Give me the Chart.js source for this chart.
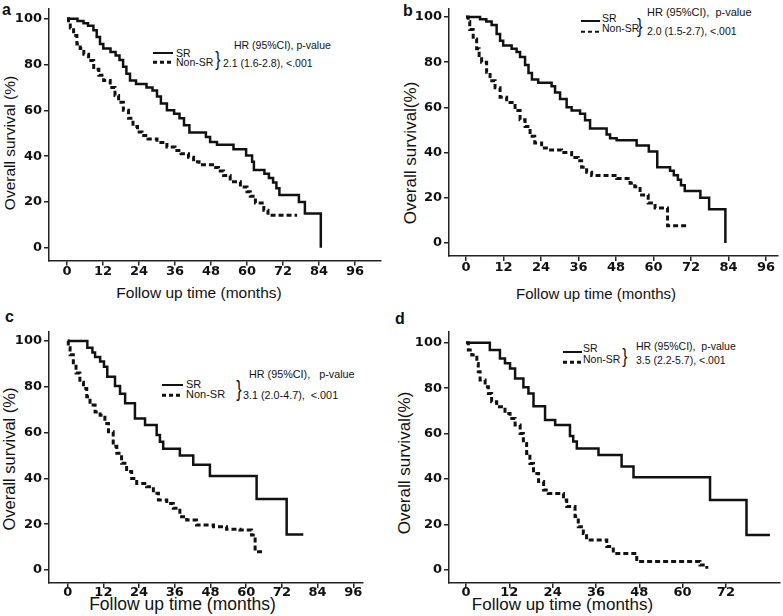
<!DOCTYPE html>
<html>
<head>
<meta charset="utf-8">
<script src="https://cdn.jsdelivr.net/npm/chart.js@4.4.1/dist/chart.umd.min.js"></script>
<style>
  body { margin: 0; background: #fff; width: 783px; height: 616px; position: relative; overflow: hidden;
         font-family: "Liberation Sans", Arial, sans-serif; color: #111; }
  canvas { position: absolute; }
  .pl { position: absolute; font-weight: bold; font-size: 16px; line-height: 1; }
  .ax { position: absolute; white-space: nowrap; line-height: 1; transform: translate(-50%, -50%); }
  .ax.v { transform: translate(-50%, -50%) rotate(-90deg); }
  .lg { position: absolute; font-size: 10.5px; white-space: pre; line-height: 1; transform: translateY(-50%); }
  .sw { position: absolute; height: 2px; background: #111; transform: translateY(-50%); }
  .sw.d { height: 2.5px; background: repeating-linear-gradient(90deg, #111 0 4px, transparent 4px 7px); }
  .br { position: absolute; font-size: 21px; line-height: 1; transform: translate(-50%, -50%) scaleX(0.75); }
</style>
</head>
<body>

<!-- panel letters -->
<div class="pl" style="left:2px;top:2px">a</div>
<div class="pl" style="left:403px;top:3px">b</div>
<div class="pl" style="left:5px;top:309px">c</div>
<div class="pl" style="left:395px;top:311px">d</div>

<!-- axis titles -->
<div class="ax v" style="left:9.5px;top:142.5px;font-size:15.5px">Overall survival (%)</div>
<div class="ax" style="left:199px;top:292.7px;font-size:15.5px">Follow up time (months)</div>
<div class="ax v" style="left:409.7px;top:152.5px;font-size:17px">Overall survival(%)</div>
<div class="ax" style="left:596px;top:293.3px;font-size:15px">Follow up time (months)</div>
<div class="ax v" style="left:9.2px;top:459px;font-size:16.5px">Overall survival (%)</div>
<div class="ax" style="left:182.5px;top:605px;font-size:17.5px">Follow up time (months)</div>
<div class="ax v" style="left:404px;top:463px;font-size:17px">Overall survival(%)</div>
<div class="ax" style="left:562.5px;top:603.5px;font-size:17px">Follow up time (months)</div>

<!-- legends / HR notes -->
<div class="sw" style="left:153px;width:20px;top:53.3px"></div>
<div class="lg" style="left:176px;top:53px">SR</div>
<div class="sw d" style="left:153px;width:20px;top:62.3px"></div>
<div class="lg" style="left:176px;top:62px">Non-SR</div>
<div class="br" style="left:218px;top:58px">}</div>
<div class="lg" style="left:234px;top:45px">HR (95%CI), p-value</div>
<div class="lg" style="left:223px;top:63px">2.1 (1.6-2.8), &lt;.001</div>

<div class="sw" style="left:581px;width:19px;top:21px"></div>
<div class="lg" style="left:602px;top:17.5px">SR</div>
<div class="sw d" style="left:581px;width:19px;top:31.5px"></div>
<div class="lg" style="left:602px;top:28px">Non-SR</div>
<div class="br" style="left:640px;top:25px">}</div>
<div class="lg" style="left:647px;top:12px;font-size:11px">HR (95%CI),  p-value</div>
<div class="lg" style="left:647px;top:31px">2.0 (1.5-2.7), &lt;.001</div>

<div class="sw" style="left:162px;width:21px;top:385px"></div>
<div class="lg" style="left:186px;top:384px;font-size:11px">SR</div>
<div class="sw d" style="left:162px;width:21px;top:395px"></div>
<div class="lg" style="left:186px;top:394px;font-size:11px">Non-SR</div>
<div class="br" style="left:239px;top:389px;font-size:22px">}</div>
<div class="lg" style="left:249px;top:374px;font-size:10.8px">HR (95%CI),   p-value</div>
<div class="lg" style="left:243px;top:395px;font-size:10.8px">3.1 (2.0-4.7),  &lt;.001</div>

<div class="sw" style="left:563px;width:19px;top:351.5px"></div>
<div class="lg" style="left:583px;top:348px">SR</div>
<div class="sw d" style="left:563px;width:19px;top:362px"></div>
<div class="lg" style="left:583px;top:359px">Non-SR</div>
<div class="br" style="left:625px;top:355px">}</div>
<div class="lg" style="left:636px;top:345.7px">HR (95%CI),  p-value</div>
<div class="lg" style="left:636px;top:360px">3.5 (2.2-5.7), &lt;.001</div>

<script>
// tick values
const xTicksFull = [0, 12, 24, 36, 48, 60, 72, 84, 96];
const xTicksShort = [0, 12, 24, 36, 48, 60, 72];
const yTicks = [0, 20, 40, 60, 80, 100];

// Kaplan-Meier curves: month of each step and survival (%) after it
// panel a
const aSRTime = [0, 3.5, 5.5, 7, 8.8, 9.9, 11, 12.1, 14.5, 16.2, 17.5, 18.7, 19.8, 21, 23, 26.5, 28.5, 30, 31.3, 33.3, 35.7, 37.5, 39, 40.8, 46.3, 47.7, 50, 55.5, 59.7, 61.7, 62.3, 65.8, 67.3, 68.7, 69.8, 70.8, 77.3, 79.3, 84.6];
const aSRSurv = [100, 99, 98, 97, 95, 92, 89, 87, 85.5, 84, 82, 79, 76, 73, 71.5, 70, 68.7, 66, 63, 60, 58.5, 56.5, 53.5, 50.3, 48.4, 46.2, 45, 43, 40.3, 37.5, 34, 32.3, 30.5, 28.5, 26, 23, 20, 15, 0];
const aNonTime = [0, 0.5, 1.1, 2.2, 3.3, 4.4, 5.6, 7.2, 8.9, 10.6, 12.2, 14.4, 16, 17.2, 18.8, 20.5, 22, 23.5, 25, 27, 30, 33.3, 36, 38, 40.5, 42.2, 44, 48.5, 50.5, 52.2, 54.4, 57.8, 60, 61.1, 62.8, 65.6, 67, 76.7];
const aNonSurv = [100, 98, 96, 92.7, 89, 87, 84.5, 81.8, 78, 75.3, 73, 70, 66.5, 63.5, 60, 56.5, 53, 50.5, 49, 47.5, 46, 44, 42.5, 41, 39.5, 37.5, 36.2, 35, 33.5, 31.5, 28.8, 26.5, 24.5, 22.5, 19.5, 16.4, 14.2, 14.2];

// panel b
const bSRTime = [0, 4.5, 6.5, 8.2, 9.8, 10.9, 11.9, 14.6, 16.2, 17.3, 18.9, 20, 21.1, 23.1, 27.4, 28.5, 30.1, 32.2, 33.8, 36.5, 38.1, 39.7, 45, 46.1, 48.2, 54.6, 58.5, 61.2, 65.3, 66.5, 67.8, 68.8, 70, 75, 77.8, 83];
const bSRSurv = [100, 99, 98, 96.5, 92.5, 89.5, 87.4, 86, 84.5, 82.3, 78.8, 75.2, 72.3, 70.9, 69.4, 66.6, 63.7, 60.1, 58.6, 57.2, 54.3, 50.7, 48, 46.4, 45.5, 43.2, 40.5, 33.5, 32, 30, 28, 25.6, 23, 20, 15, 0];
const bNonTime = [0, 0.7, 1.2, 2.3, 3.4, 4.2, 5, 6.6, 7.7, 9.3, 10.9, 13, 15.7, 17.3, 18.9, 20.5, 22, 24.2, 26.3, 30.6, 33.8, 35.9, 37, 38.6, 40.2, 48.2, 52.5, 54, 55.7, 58.3, 60.5, 64.5, 70.6];
const bNonSurv = [100, 98, 94.5, 90.3, 86, 83, 80, 75.5, 71.8, 68.7, 64.5, 62.2, 58.6, 54.5, 51.5, 47.2, 44.3, 42, 41.2, 40, 37.8, 36.4, 33.5, 31.3, 29.9, 28.6, 26.5, 24.9, 21.3, 17.7, 15.5, 7.6, 7.6];

// panel c
const cSRTime = [0, 6.6, 8.3, 9.2, 10.9, 12.2, 13.3, 15.9, 17.6, 19.3, 22.6, 26, 29.9, 31, 32.1, 37.7, 42.2, 47.8, 63.5, 73.6, 79.2];
const cSRSurv = [100, 97, 95, 93, 91, 88.8, 84.4, 80.3, 77, 72.8, 66.2, 63.3, 59, 56, 53, 50, 46, 41, 31, 15.5, 15.5];
const cNonTime = [0, 0.2, 0.8, 1.9, 2.8, 4.1, 5.3, 6.4, 7.5, 9.2, 10.9, 12.5, 13.7, 15.3, 16.5, 18.1, 19.8, 21.5, 23.2, 26.5, 28.8, 30.5, 33.3, 35.5, 37.7, 40, 43.3, 49, 53.4, 57.9, 61.8, 63, 66.3];
const cNonSurv = [100, 97, 94, 89, 86, 82, 79.3, 75.7, 72, 69, 67.6, 64, 60.4, 54, 51, 46.6, 43, 40, 37.8, 36.4, 33.5, 30.6, 29, 27, 23.3, 21.8, 19.6, 18.9, 17.8, 17.5, 15.3, 8, 8];

// panel d
const dSRTime = [0, 6.6, 9.4, 10.8, 12.2, 13.6, 15.9, 17.3, 18.7, 21.9, 24.7, 28.8, 29.7, 30.7, 36.7, 43.1, 46.4, 67.6, 77.7, 84.2];
const dSRSurv = [100, 96.8, 93, 91, 88.7, 84.3, 80.4, 77.7, 72, 66, 63.8, 58.9, 56.5, 53.5, 50.6, 45.5, 40.8, 30.8, 15.4, 15.4];
const dNonTime = [0, 0.65, 1.6, 3, 3.4, 3.9, 5.3, 6.2, 7.1, 8.5, 10.8, 12.2, 13.6, 15, 15.9, 16.8, 17.7, 18.7, 20.1, 21.5, 22.8, 27, 27.9, 30.2, 31.1, 32.5, 33.4, 39, 40.8, 47.3, 64.8, 66.7];
const dNonSurv = [100, 96.8, 94.6, 90.9, 87.2, 83.6, 80.6, 77.7, 74, 71.8, 68.9, 66.7, 63.8, 60, 55.7, 51.3, 46.9, 42.5, 38.9, 35.2, 33.7, 30.8, 27.9, 23.5, 19, 16.1, 13.2, 10.3, 7.3, 3.7, 2.2, 0.5];

// where each panel sits on the page (canvas box, plot box, pixel of month 0, px per month, pixel of 0% and 100%)
const panels = [
  { box: [0, 0, 391, 308],     area: [49, 8, 381, 260.5],  x0: 67,   xPer: 3.0,   y0: 247.7, y100: 18.3,  xt: xTicksFull,  pad: 0,  sr: [aSRTime, aSRSurv], non: [aNonTime, aNonSurv] },
  { box: [391, 0, 392, 308],   area: [449, 2, 778, 256],   x0: 466,  xPer: 3.125, y0: 242.7, y100: 10.7,  xt: xTicksFull,  pad: 0,  sr: [bSRTime, bSRSurv], non: [bNonTime, bNonSurv] },
  { box: [0, 308, 391, 308],   area: [49, 332, 363, 583],  x0: 67.7, xPer: 2.975, y0: 570,   y100: 341,   xt: xTicksFull,  pad: -2, sr: [cSRTime, cSRSurv], non: [cNonTime, cNonSurv] },
  { box: [391, 308, 392, 308], area: [449, 332, 780, 583], x0: 466,  xPer: 3.61,  y0: 570,   y100: 342.7, xt: xTicksShort, pad: -2, sr: [dSRTime, dSRSurv], non: [dNonTime, dNonSurv] }
];

function toPoints(times, surv) {
  return times.map((t, i) => ({ x: t, y: surv[i] }));
}

function axisStyle(pad, extra) {
  return Object.assign({
    type: 'linear',
    grid: { display: true, drawOnChartArea: false, drawTicks: true, tickLength: 5, color: '#222', lineWidth: 1.5 },
    border: { display: true, color: '#222', width: 1.5 },
    ticks: { color: '#111', font: { family: 'DejaVu Sans', weight: 'bold', size: 13, lineHeight: 1 },
             autoSkip: false, maxRotation: 0, padding: pad }
  }, extra);
}

panels.forEach(p => {
  const [bx, by, bw, bh] = p.box;
  const [l, t, r, b] = p.area;
  const cv = document.createElement('canvas');
  cv.width = bw; cv.height = bh;
  cv.style.left = bx + 'px'; cv.style.top = by + 'px';
  cv.style.width = bw + 'px'; cv.style.height = bh + 'px';
  document.body.appendChild(cv);

  const yPer = (p.y0 - p.y100) / 100;

  new Chart(cv, {
    type: 'line',
    data: {
      datasets: [
        { label: 'SR', data: toPoints(p.sr[0], p.sr[1]), borderColor: '#111', borderWidth: 2.5,
          stepped: 'before', pointRadius: 0, fill: false },
        { label: 'Non-SR', data: toPoints(p.non[0], p.non[1]), borderColor: '#111', borderWidth: 3,
          borderDash: [5, 3], borderCapStyle: 'butt', stepped: 'before', pointRadius: 0, fill: false }
      ]
    },
    options: {
      responsive: false,
      animation: false,
      events: [],
      layout: { padding: { left: 0, top: t - by, right: bx + bw - r, bottom: 0 } },
      plugins: { legend: { display: false }, tooltip: { enabled: false } },
      scales: {
        x: axisStyle(p.pad, {
          min: -(p.x0 - l) / p.xPer,
          max: (r - p.x0) / p.xPer,
          afterFit: s => { s.height = by + bh - b; },
          afterBuildTicks: s => { s.ticks = p.xt.map(v => ({ value: v })); }
        }),
        y: axisStyle(2, {
          min: -(b - p.y0) / yPer,
          max: 100 + (p.y100 - t) / yPer,
          afterFit: s => { s.width = l - bx; },
          afterBuildTicks: s => { s.ticks = yTicks.map(v => ({ value: v })); }
        })
      }
    }
  });
});
</script>
</body>
</html>
